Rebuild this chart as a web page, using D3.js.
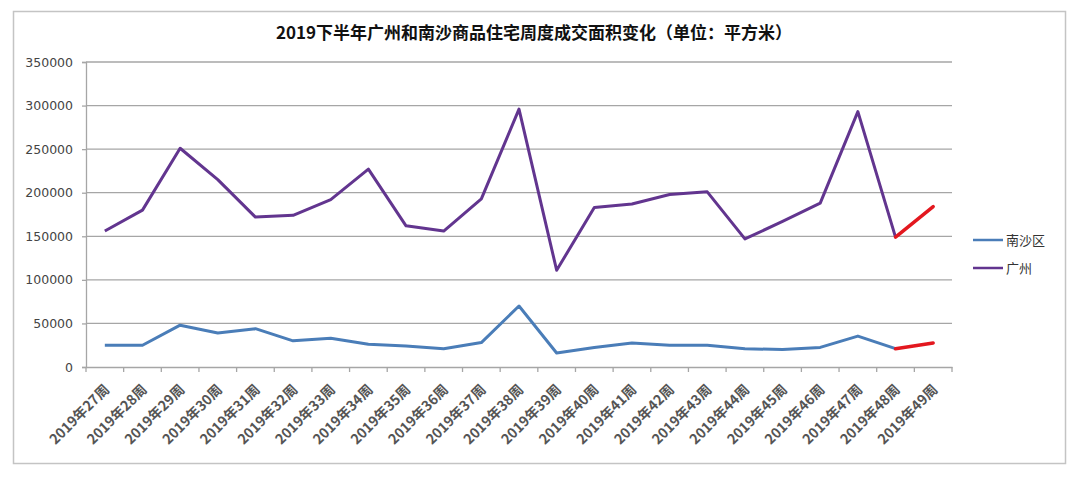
<!DOCTYPE html>
<html>
<head>
<meta charset="utf-8">
<script src="https://cdn.jsdelivr.net/npm/d3@7/dist/d3.min.js"></script>
<style>
  html, body { margin: 0; padding: 0; background: #fff; }
  svg { display: block; }
  text { font-family: "Noto Sans CJK SC", "Noto Sans", sans-serif; }
</style>
</head>
<body>
<svg id="chart" width="1080" height="480"></svg>
<script>
const title = "2019下半年广州和南沙商品住宅周度成交面积变化（单位：平方米）";
const weeks = ["2019年27周","2019年28周","2019年29周","2019年30周","2019年31周","2019年32周","2019年33周","2019年34周","2019年35周","2019年36周","2019年37周","2019年38周","2019年39周","2019年40周","2019年41周","2019年42周","2019年43周","2019年44周","2019年45周","2019年46周","2019年47周","2019年48周","2019年49周"];
const nansha = [25000,25000,48000,39000,44000,30000,33000,26000,24000,21000,28000,70000,16000,22500,27500,25000,25000,21000,20000,22500,35500,21000,27500];
const guangzhou = [156000,180000,251000,215000,172000,174000,192000,227000,162000,156000,193000,296000,111000,183000,187000,198000,201000,147000,167000,188000,293000,149000,184000];
const yTicks = [0,50000,100000,150000,200000,250000,300000,350000];
const seriesNames = ["南沙区","广州"];
const seriesColors = ["#4a7db8","#62358f"];
const highlightColor = "#e3181f";

const svg = d3.select("#chart");
const m = {left: 86, right: 952, top: 62, bottom: 367};

// outer frame
svg.append("rect").attr("x", 13.5).attr("y", 11.5).attr("width", 1052).attr("height", 452)
  .attr("fill", "#fff").attr("stroke", "#c4c4c4").attr("stroke-width", 1.5);

const x = d3.scaleBand().domain(weeks).range([m.left, m.right]).paddingInner(0).paddingOuter(0);
const y = d3.scaleLinear().domain([0, 350000]).range([m.bottom, m.top]);

// gridlines
svg.append("g").selectAll("line").data(yTicks.filter(d => d > 0)).join("line")
  .attr("x1", m.left).attr("x2", m.right)
  .attr("y1", d => y(d)).attr("y2", d => y(d))
  .attr("stroke", "#a6a6a6").attr("stroke-width", 1.3);

// y axis
const yAxis = svg.append("g").attr("transform", `translate(${m.left},0)`)
  .call(d3.axisLeft(y).tickValues(yTicks).tickSize(4).tickPadding(9).tickFormat(d3.format("d")));
yAxis.select(".domain").attr("stroke", "#a6a6a6").attr("stroke-width", 1.3);
yAxis.selectAll(".tick line").attr("stroke", "#a6a6a6").attr("stroke-width", 1.3);
yAxis.selectAll("text").attr("font-size", 12.5).attr("fill", "#444")
  .style("font-family", "'DejaVu Sans', sans-serif");

// x axis
const xAxis = svg.append("g").attr("transform", `translate(0,${m.bottom})`)
  .call(d3.axisBottom(x).tickSize(0).tickFormat(""));
xAxis.select(".domain").attr("stroke", "#a6a6a6").attr("stroke-width", 1.3);
const edges = weeks.map(w => x(w)).concat([m.right]);
svg.append("g").selectAll("line").data(edges).join("line")
  .attr("x1", d => d).attr("x2", d => d).attr("y1", m.bottom).attr("y2", m.bottom + 5)
  .attr("stroke", "#a6a6a6").attr("stroke-width", 1.3);
svg.append("g").selectAll("text").data(weeks).join("text")
  .attr("transform", d => `translate(${x(d) + x.bandwidth() / 2 + 2},${m.bottom + 20}) rotate(-45)`)
  .attr("text-anchor", "end").attr("dy", "0.35em")
  .attr("font-size", 14).attr("font-weight", "bold").attr("fill", "#555")
  .text(d => d);

// lines
const cx = d => x(d) + x.bandwidth() / 2;
const line = d3.line().x(d => cx(d.w)).y(d => y(d.v));
const n = weeks.length;
[nansha, guangzhou].forEach((vals, i) => {
  const pts = weeks.map((w, j) => ({w, v: vals[j]}));
  svg.append("path").datum(pts.slice(0, n - 1)).attr("d", line)
    .attr("fill", "none").attr("stroke", seriesColors[i]).attr("stroke-width", 3)
    .attr("stroke-linejoin", "round");
  svg.append("path").datum(pts.slice(n - 2)).attr("d", line)
    .attr("fill", "none").attr("stroke", highlightColor).attr("stroke-width", 3.5)
    .attr("stroke-linecap", "round");
});

// legend
const lg = svg.append("g");
seriesNames.forEach((name, i) => {
  const ly = 240 + i * 28;
  lg.append("line").attr("x1", 973).attr("x2", 1003).attr("y1", ly).attr("y2", ly)
    .attr("stroke", seriesColors[i]).attr("stroke-width", 2.5);
  lg.append("text").attr("x", 1006).attr("y", ly).attr("dy", "0.35em")
    .attr("font-size", 13).attr("fill", "#333").text(name);
});

// title
svg.append("text").attr("x", 534).attr("y", 39).attr("text-anchor", "middle")
  .attr("font-size", 17).attr("font-weight", "bold").attr("fill", "#111")
  .text(title);
</script>
</body>
</html>
